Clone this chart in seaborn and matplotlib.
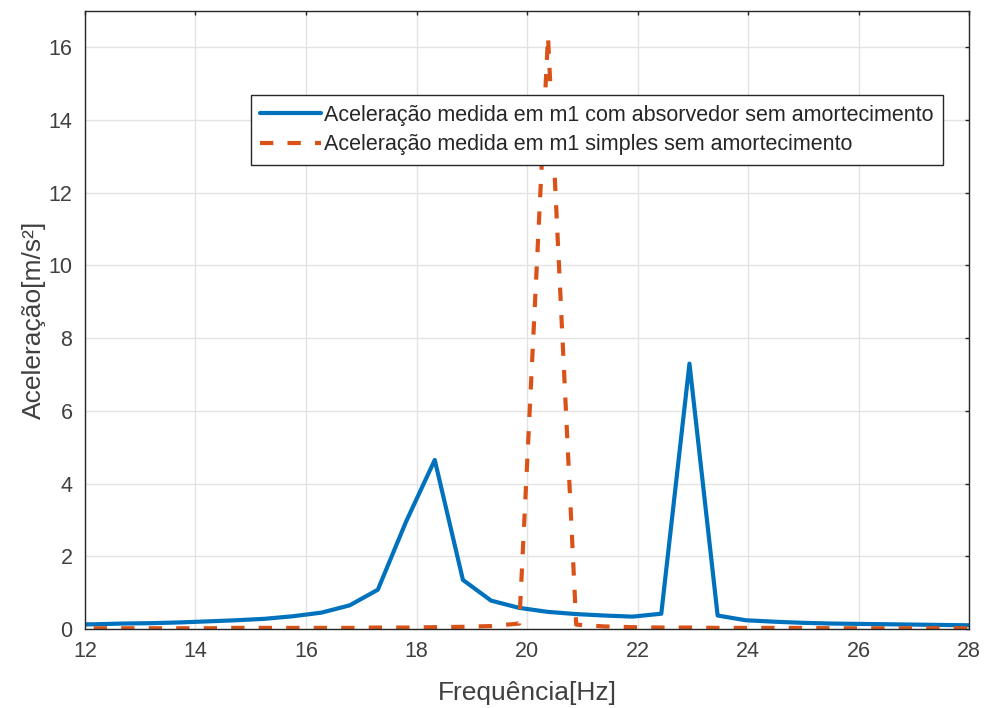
import matplotlib as mpl

mpl.use("Agg")
import matplotlib.pyplot as plt
import seaborn as sns
import pandas as pd

# frequency samples [Hz]
freq = [11.66, 12.17, 12.69, 13.20, 13.71, 14.23, 14.74, 15.25, 15.76, 16.28,
        16.79, 17.30, 17.81, 18.33, 18.84, 19.35, 19.86, 20.38, 20.89, 21.40,
        21.91, 22.43, 22.94, 23.45, 23.96, 24.48, 24.99, 25.50, 26.01, 26.53,
        27.04, 27.55, 28.06]

# acceleration on m1 with absorber (no damping)
acc_absorber = [0.12, 0.13, 0.15, 0.16, 0.18, 0.21, 0.24, 0.28, 0.35, 0.45,
                0.65, 1.08, 2.95, 4.65, 1.35, 0.78, 0.58, 0.47, 0.41, 0.37,
                0.34, 0.42, 7.30, 0.37, 0.24, 0.20, 0.17, 0.15, 0.14, 0.13,
                0.12, 0.11, 0.10]

# acceleration on m1 simple system (no damping)
acc_simple = [0.02, 0.02, 0.02, 0.02, 0.02, 0.02, 0.03, 0.03, 0.03, 0.03,
              0.03, 0.04, 0.04, 0.05, 0.06, 0.08, 0.15, 16.30, 0.12, 0.07,
              0.05, 0.04, 0.04, 0.03, 0.03, 0.03, 0.03, 0.02, 0.02, 0.02,
              0.02, 0.02, 0.02]

labels = ["Aceleração medida em m1 com absorvedor sem amortecimento",
          "Aceleração medida em m1 simples sem amortecimento"]

df = pd.DataFrame({"f": freq, "a1": acc_absorber, "a2": acc_simple})

sns.set_style("white")
plt.rcParams["font.family"] = ["Liberation Sans", "DejaVu Sans"]

fig = plt.figure(figsize=(9.86, 7.08), dpi=100)
ax = fig.add_axes([0.0862, 0.1116, 0.8966, 0.8729])

sns.lineplot(data=df, x="f", y="a1", ax=ax, color="#0072BD", lw=3,
             label=labels[0])
sns.lineplot(data=df, x="f", y="a2", ax=ax, color="#D95319", lw=3,
             label=labels[1])
ax.lines[1].set_dashes([3.2, 3.4])

ax.set_xlim(12, 28)
ax.set_ylim(0, 17)
ax.set_xticks(range(12, 29, 2))
ax.set_yticks(range(0, 17, 2))
ax.grid(True, color="#e3e3e3", lw=1)
ax.tick_params(direction="in", labelsize=15.5, colors="#262626", length=3,
               top=True, right=True, width=1)
ax.tick_params(axis="x", pad=9)
ax.tick_params(axis="y", pad=9)
for t in ax.get_xticklabels() + ax.get_yticklabels():
    t.set_color("#404040")
for s in ax.spines.values():
    s.set_color("#262626")
    s.set_linewidth(1)
ax.set_xlabel("Frequência[Hz]", fontsize=19, color="#404040", labelpad=13)
ax.set_ylabel("Aceleração[m/s²]", fontsize=19, color="#404040", labelpad=2)

leg = ax.legend(loc="upper right", bbox_to_anchor=(0.9706, 0.864),
                fontsize=15.5, frameon=True, fancybox=False, framealpha=1,
                edgecolor="#262626", handlelength=2.8, borderpad=0.45,
                labelspacing=0.4, handletextpad=0.15, borderaxespad=0)
leg.get_frame().set_linewidth(1)

fig.savefig("out.png", dpi=100)
